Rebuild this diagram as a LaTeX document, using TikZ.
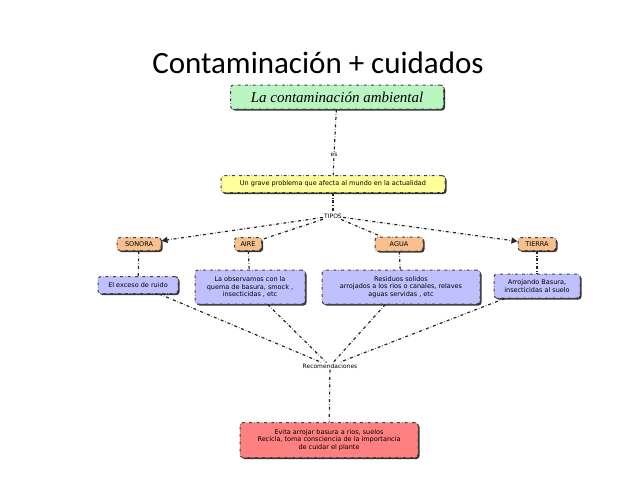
\documentclass[tikz,border=0pt]{standalone}
\usepackage{fontspec}
\setmainfont{DejaVu Sans}
\newfontfamily\titlefont{Carlito}
\newfontfamily\serifit{Liberation Serif}
\usetikzlibrary{shadows,arrows.meta}
\definecolor{gbox}{HTML}{B8F5C0}
\definecolor{ybox}{HTML}{FFFF99}
\definecolor{obox}{HTML}{F8C08E}
\definecolor{bbox}{HTML}{C0C0FF}
\definecolor{rbox}{HTML}{FF8080}
\tikzset{
 cbox/.style={draw=black!75, dash dot, line width=1pt, rounded corners=3pt, font=\fontsize{6.5}{7.5}\selectfont, align=center, inner sep=2pt, drop shadow={shadow xshift=1.5pt, shadow yshift=-1.5pt, opacity=1, fill=black!80}},
 lbl/.style={font=\fontsize{6}{6.5}\selectfont, inner sep=1pt, fill=white},
 conn/.style={dash dot, line width=1.2pt, black!85},
 arr/.style={conn, -{Triangle[length=6pt,width=6pt]}}
}
\begin{document}
\begin{tikzpicture}[x=1pt,y=-1pt]
\useasboundingbox (0,0) rectangle (638,479);
\node[font=\titlefont\fontsize{31}{34}\selectfont] (title) at (318,63) {Contaminación + cuidados};
\node[cbox, fill=gbox, font=\serifit\itshape\fontsize{15}{17}\selectfont, minimum width=213, minimum height=24] (g) at (337,97) {La contaminación ambiental};
\node[lbl] (es) at (334,155) {es};
\node[cbox, fill=ybox, minimum width=224, minimum height=17] (y) at (333,184) {Un grave problema que afecta al mundo en la actualidad};
\node[lbl] (tipos) at (333,216) {TIPOS};
\node[cbox, fill=obox, minimum width=44, minimum height=13] (so) at (139,244) {SONORA};
\node[cbox, fill=obox, minimum width=27, minimum height=13] (ai) at (248,244) {AIRE};
\node[cbox, fill=obox, minimum width=48, minimum height=14] (ag) at (399,244) {AGUA};
\node[cbox, fill=obox, minimum width=38, minimum height=13] (ti) at (537,244) {TIERRA};
\node[cbox, fill=bbox, minimum width=80, minimum height=17] (b1) at (138,285) {El exceso de ruido};
\node[cbox, fill=bbox, minimum width=110, minimum height=34] (b2) at (250,287) {La observamos con la\\quema de basura, smock ,\\insecticidas , etc};
\node[cbox, fill=bbox, minimum width=158, minimum height=34] (b3) at (401,287) {Residuos solidos\\arrojados a los rios o canales, relaves\\aguas servidas , etc};
\node[cbox, fill=bbox, minimum width=86, minimum height=24] (b4) at (537,286) {Arrojando Basura,\\insecticidas al suelo};
\node[lbl] (rec) at (330,366) {Recomendaciones};
\node[cbox, fill=rbox, minimum width=178, minimum height=35] (r) at (329,440) {Evita arrojar basura a rios, suelos\\Recicla, toma consciencia de la importancia\\de cuidar el plante};
\draw[conn] (g) -- (es);
\draw[conn] (es) -- (y);
\draw[conn] (y) -- (tipos);
\draw[arr] (tipos) -- (so);
\draw[conn] (tipos) -- (ai);
\draw[conn] (tipos) -- (ag);
\draw[arr] (tipos) -- (ti);
\draw[conn] (so) -- (b1);
\draw[conn] (ai) -- (b2);
\draw[conn] (ag) -- (b3);
\draw[conn] (ti) -- (b4);
\draw[conn] (b1) -- (rec);
\draw[conn] (b2) -- (rec);
\draw[conn] (b3) -- (rec);
\draw[conn] (b4) -- (rec);
\draw[conn] (rec) -- (r);
\end{tikzpicture}
\end{document}
